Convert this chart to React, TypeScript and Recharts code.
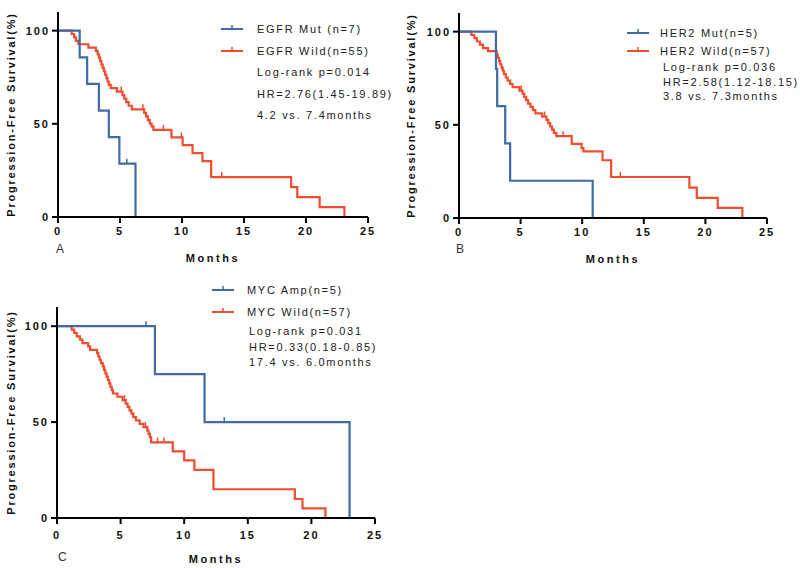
import React from 'react';
import { LineChart, Line, XAxis, YAxis } from 'recharts';

// [months, survival %, censored (1) or event (0)]
type Pt = [number, number, number];

const monthTicks = [0, 5, 10, 15, 20, 25];
const survTicks = [0, 50, 100];

const egfrMut: Pt[] = [
  [0, 100, 0], [1.75, 85.7, 0], [2.35, 71.4, 0], [3.3, 57.1, 0], [4.1, 42.9, 0],
  [4.95, 28.6, 0], [5.55, 28.6, 1], [6.25, 0, 0],
];
const egfrWild: Pt[] = [
  [0, 100, 0], [1.1, 98.2, 0], [1.3, 96.4, 0], [1.45, 94.5, 0], [1.65, 92.7, 0],
  [2.45, 90.9, 0], [3.05, 89.1, 0], [3.2, 87.3, 0], [3.3, 85.5, 0], [3.4, 83.6, 0],
  [3.5, 81.8, 0], [3.6, 80, 0], [3.7, 78.2, 0], [3.8, 76.4, 0], [3.9, 74.5, 0],
  [4.0, 72.7, 0], [4.1, 70.9, 0], [4.25, 69.1, 0], [4.75, 67.3, 0], [5.1, 67.3, 1],
  [5.2, 65.4, 0], [5.35, 63.5, 0], [5.5, 61.6, 0], [5.7, 59.7, 0], [5.95, 57.8, 0],
  [6.85, 57.8, 1], [6.95, 55.9, 0], [7.1, 54, 0], [7.25, 52, 0], [7.4, 50.1, 0],
  [7.55, 48.6, 0], [7.7, 46.7, 0], [8.5, 46.7, 1], [9.15, 42.7, 0], [9.95, 42.7, 1],
  [10.05, 38.6, 0], [10.85, 34.3, 0], [11.65, 30, 0], [12.35, 21.4, 0], [13.2, 21.4, 1],
  [18.8, 16, 0], [19.3, 10.7, 0], [21.1, 5.3, 0], [23.1, 0, 0],
];

const her2Mut: Pt[] = [
  [0, 100, 0], [3.0, 80, 0], [3.1, 60, 0], [3.75, 40, 0], [4.15, 20, 0], [10.85, 0, 0],
];
const her2Wild: Pt[] = [
  [0, 100, 0], [1.0, 98.2, 0], [1.25, 96.5, 0], [1.45, 94.7, 0], [1.7, 93, 0],
  [1.95, 91.2, 0], [2.35, 89.5, 0], [3.05, 87.7, 0], [3.15, 86, 0], [3.25, 84.2, 0],
  [3.35, 82.5, 0], [3.45, 80.7, 0], [3.55, 79, 0], [3.65, 77.2, 0], [3.8, 75.4, 0],
  [3.95, 73.7, 0], [4.15, 71.9, 0], [4.35, 70.2, 0], [4.9, 68.4, 0], [5.05, 68.4, 1],
  [5.15, 66.7, 0], [5.3, 64.9, 0], [5.45, 63.2, 0], [5.6, 61.4, 0], [5.8, 59.6, 0],
  [6.0, 57.9, 0], [6.2, 56.1, 0], [6.75, 54.4, 0], [6.95, 54.4, 1], [7.1, 52.6, 0],
  [7.25, 50.9, 0], [7.4, 49.1, 0], [7.55, 47.4, 0], [7.7, 45.6, 0], [7.9, 43.9, 0],
  [8.45, 43.9, 1], [9.15, 39.8, 0], [9.95, 37.5, 0], [10.1, 35.8, 0], [11.65, 31, 0],
  [12.35, 22, 0], [13.1, 22, 1], [18.7, 16.3, 0], [19.3, 10.8, 0], [21.0, 5.4, 0],
  [23.0, 0, 0],
];

const mycAmp: Pt[] = [
  [0, 100, 0], [7.0, 100, 1], [7.7, 75, 0], [11.6, 50, 0], [13.15, 50, 1], [23.0, 0, 0],
];
const mycWild: Pt[] = [
  [0, 100, 0], [1.15, 98.2, 0], [1.35, 96.5, 0], [1.55, 94.7, 0], [1.8, 93, 0],
  [2.0, 91.2, 0], [2.45, 89.5, 0], [2.6, 87.7, 0], [3.15, 86, 0], [3.25, 84.2, 0],
  [3.35, 82.5, 0], [3.45, 80.7, 0], [3.6, 79, 0], [3.7, 77.2, 0], [3.8, 75.4, 0],
  [3.9, 73.7, 0], [4.0, 71.9, 0], [4.1, 70.2, 0], [4.2, 68.4, 0], [4.3, 66.7, 0],
  [4.4, 64.9, 0], [4.75, 63.2, 0], [5.15, 61.4, 0], [5.3, 61.4, 1], [5.4, 59.6, 0],
  [5.55, 57.9, 0], [5.7, 56.1, 0], [5.85, 54.4, 0], [6.0, 52.6, 0], [6.2, 50.9, 0],
  [6.5, 49.1, 0], [6.8, 47.4, 0], [6.95, 47.4, 1], [7.1, 45.6, 0], [7.2, 43.9, 0],
  [7.3, 42.1, 0], [7.4, 39.4, 0], [7.9, 39.4, 1], [8.4, 39.4, 1], [9.1, 34.7, 0],
  [10.0, 30, 0], [10.8, 25.1, 0], [12.3, 15, 0], [18.7, 9.9, 0], [19.3, 5, 0],
  [21.1, 0, 0],
];

const BLUE = '#3e6ca4';
const RED = '#f04c2e';
const FONT = "'Liberation Sans', Arial, sans-serif";

const toRows = (pts: Pt[]) => pts.map(([t, s, c]) => ({ t, s, c }));

// small vertical tick where a patient was censored
const censorDot = (props: any) => {
  const { cx, cy, payload, stroke, index } = props;
  if (!payload || !payload.c || cx == null) return <g key={`n${index}`} />;
  return (
    <line key={`c${index}`} x1={cx} x2={cx} y1={cy - 5} y2={cy} stroke={stroke} strokeWidth={1.5} />
  );
};

const LegendIcon = ({ color }: { color: string }) => (
  <svg width={22} height={10} style={{ display: 'block' }}>
    <line x1={0} x2={22} y1={6} y2={6} stroke={color} strokeWidth={2} />
    <line x1={11} x2={11} y1={2} y2={6} stroke={color} strokeWidth={1.5} />
  </svg>
);

interface Row {
  text: string;
  y: number;
  x: number;
  color?: string;
}

interface PanelProps {
  left: number;
  top: number;
  width: number;
  height: number;
  margin: { top: number; right: number; bottom: number; left: number };
  yWidth: number;
  tickGap: number;
  mut: Pt[];
  wild: Pt[];
  letter: string;
  letterPos: [number, number];
  iconX: number;
  rows: Row[];
}

function Panel(p: PanelProps) {
  const axisStyle = { stroke: '#000', strokeWidth: 2 };
  const tickStyle = { fill: '#111', fontSize: 11, fontWeight: 'bold', letterSpacing: 2, fontFamily: FONT };
  return (
    <div style={{ position: 'absolute', left: p.left, top: p.top, width: p.width, height: p.height }}>
      <LineChart width={p.width} height={p.height} margin={p.margin}>
        <XAxis
          type="number"
          dataKey="t"
          domain={[0, 25]}
          ticks={monthTicks}
          allowDataOverflow
          height={45}
          axisLine={axisStyle}
          tickLine={axisStyle}
          tickSize={6}
          tickMargin={p.tickGap}
          tick={tickStyle}
          label={{
            value: 'Months',
            position: 'insideBottom',
            offset: 0,
            style: { fill: '#111', fontSize: 11, fontWeight: 'bold', letterSpacing: 2.6, fontFamily: FONT },
          }}
        />
        <YAxis
          type="number"
          domain={[0, 110]}
          ticks={survTicks}
          allowDataOverflow
          width={p.yWidth}
          axisLine={axisStyle}
          tickLine={axisStyle}
          tickSize={6}
          tickMargin={2}
          tick={tickStyle}
          label={{
            value: 'Progression-Free Survival(%)',
            angle: -90,
            position: 'insideLeft',
            offset: 11,
            style: {
              textAnchor: 'middle',
              fill: '#111',
              fontSize: 11,
              fontWeight: 'bold',
              letterSpacing: 1.8,
              fontFamily: FONT,
            },
          }}
        />
        <Line
          data={toRows(p.wild)}
          dataKey="s"
          type="stepAfter"
          stroke={RED}
          strokeWidth={2.2}
          dot={censorDot}
          activeDot={false}
          isAnimationActive={false}
        />
        <Line
          data={toRows(p.mut)}
          dataKey="s"
          type="stepAfter"
          stroke={BLUE}
          strokeWidth={2.2}
          dot={censorDot}
          activeDot={false}
          isAnimationActive={false}
        />
      </LineChart>
      {p.rows.map((r) => (
        <div
          key={r.text}
          style={{
            position: 'absolute',
            left: r.x,
            top: r.y - 7,
            height: 14,
            lineHeight: '14px',
            fontSize: 11,
            letterSpacing: 1.7,
            color: '#222',
            fontFamily: FONT,
            whiteSpace: 'nowrap',
          }}
        >
          {r.text}
        </div>
      ))}
      {p.rows
        .filter((r) => r.color)
        .map((r) => (
          <div key={`i${r.text}`} style={{ position: 'absolute', left: p.iconX, top: r.y - 6 }}>
            <LegendIcon color={r.color as string} />
          </div>
        ))}
      <div
        style={{
          position: 'absolute',
          left: p.letterPos[0],
          top: p.letterPos[1] - 7,
          fontSize: 12,
          lineHeight: '14px',
          color: '#333',
          fontFamily: FONT,
        }}
      >
        {p.letter}
      </div>
    </div>
  );
}

export default function App() {
  return (
    <div style={{ position: 'absolute', left: 0, top: 0, width: 800, height: 568, background: '#fff' }}>
      <Panel
        left={0}
        top={0}
        width={400}
        height={270}
        margin={{ top: 12, right: 32, bottom: 8, left: 0 }}
        yWidth={58}
        tickGap={4}
        mut={egfrMut}
        wild={egfrWild}
        letter="A"
        letterPos={[56, 249]}
        iconX={221}
        rows={[
          { text: 'EGFR Mut (n=7)', x: 257, y: 29, color: BLUE },
          { text: 'EGFR Wild(n=55)', x: 257, y: 51, color: RED },
          { text: 'Log-rank p=0.014', x: 257, y: 72 },
          { text: 'HR=2.76(1.45-19.89)', x: 257, y: 94 },
          { text: '4.2 vs. 7.4months', x: 257, y: 115 },
        ]}
      />
      <Panel
        left={400}
        top={0}
        width={400}
        height={270}
        margin={{ top: 13, right: 33, bottom: 7, left: 0 }}
        yWidth={59}
        tickGap={4}
        mut={her2Mut}
        wild={her2Wild}
        letter="B"
        letterPos={[56, 249]}
        iconX={227}
        rows={[
          { text: 'HER2 Mut(n=5)', x: 260, y: 33, color: BLUE },
          { text: 'HER2 Wild(n=57)', x: 260, y: 51, color: RED },
          { text: 'Log-rank p=0.036', x: 263, y: 67 },
          { text: 'HR=2.58(1.12-18.15)', x: 263, y: 82 },
          { text: '3.8 vs. 7.3months', x: 263, y: 96 },
        ]}
      />
      <Panel
        left={0}
        top={270}
        width={400}
        height={298}
        margin={{ top: 37, right: 25, bottom: 5, left: 0 }}
        yWidth={57}
        tickGap={7}
        mut={mycAmp}
        wild={mycWild}
        letter="C"
        letterPos={[58, 287]}
        iconX={212}
        rows={[
          { text: 'MYC Amp(n=5)', x: 247, y: 20, color: BLUE },
          { text: 'MYC Wild(n=57)', x: 247, y: 42, color: RED },
          { text: 'Log-rank p=0.031', x: 249, y: 61 },
          { text: 'HR=0.33(0.18-0.85)', x: 249, y: 77 },
          { text: '17.4 vs. 6.0months', x: 249, y: 92 },
        ]}
      />
    </div>
  );
}
